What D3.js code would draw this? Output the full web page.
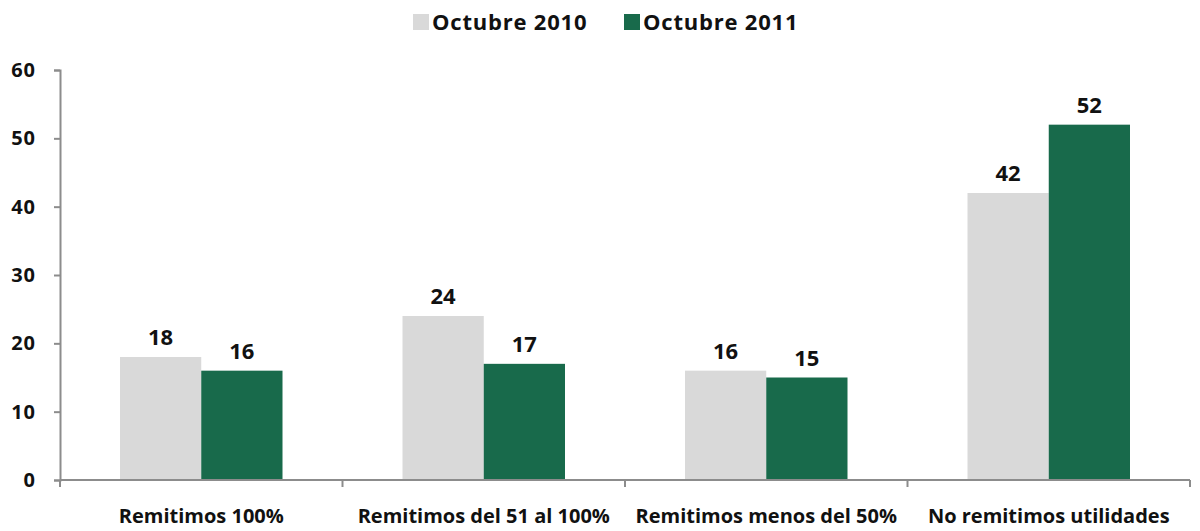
<!DOCTYPE html>
<html>
<head>
<meta charset="utf-8">
<script src="https://cdn.jsdelivr.net/npm/d3@7"></script>
<style>
  body { margin: 0; background: #fff; }
  svg text { font-family: "Open Sans", "DejaVu Sans", sans-serif; font-weight: bold; fill: #111; }
</style>
</head>
<body>
<div id="chart"></div>
<script>
const categories = ["Remitimos 100%", "Remitimos del 51 al 100%", "Remitimos menos del 50%", "No remitimos utilidades"];
const seriesNames = ["Octubre 2010", "Octubre 2011"];
const oct2010 = [18, 24, 16, 42];
const oct2011 = [16, 17, 15, 52];
const yTicks = [0, 10, 20, 30, 40, 50, 60];
const colors = ["#d9d9d9", "#186a4b"];

const width = 1200, height = 531;
const margin = {top: 70, right: 10, bottom: 51, left: 60};

const svg = d3.select("#chart").append("svg")
    .attr("width", width)
    .attr("height", height);

const x = d3.scaleBand()
    .domain(categories)
    .range([margin.left, width - margin.right])
    .paddingInner(0)
    .paddingOuter(0);

const x1 = d3.scaleBand()
    .domain(seriesNames)
    .range([60, x.bandwidth() - 60]);

const y = d3.scaleLinear()
    .domain([0, 60])
    .range([height - margin.bottom, margin.top]);

const rows = categories.map((c, i) => ({cat: c, values: [oct2010[i], oct2011[i]]}));

const groups = svg.append("g").selectAll("g")
    .data(rows)
    .join("g")
    .attr("transform", d => `translate(${x(d.cat)},0)`);

groups.selectAll("rect")
    .data(d => d.values.map((v, j) => ({name: seriesNames[j], v, j})))
    .join("rect")
    .attr("x", d => x1(d.name))
    .attr("y", d => y(d.v))
    .attr("width", x1.bandwidth())
    .attr("height", d => y(0) - y(d.v))
    .attr("fill", d => colors[d.j]);

groups.selectAll("text.val")
    .data(d => d.values.map((v, j) => ({name: seriesNames[j], v})))
    .join("text")
    .attr("class", "val")
    .attr("x", d => x1(d.name) + x1.bandwidth() / 2)
    .attr("y", d => y(d.v) - 12)
    .attr("text-anchor", "middle")
    .attr("font-size", 22)
    .text(d => d.v);

// y axis
const yAxis = svg.append("g")
    .attr("transform", `translate(${margin.left},0)`)
    .call(d3.axisLeft(y).tickValues(yTicks).tickSize(6).tickPadding(18));
yAxis.selectAll("line, path").attr("stroke", "#8c8c8c").attr("stroke-width", 2);
yAxis.selectAll("text").attr("font-size", 20).attr("letter-spacing", 1)
    .style("font-family", "'Open Sans', sans-serif").style("font-weight", "bold").attr("fill", "#111");

// x axis baseline with boundary ticks
const xAxisG = svg.append("g");
xAxisG.append("line")
    .attr("x1", margin.left).attr("x2", width - margin.right)
    .attr("y1", y(0)).attr("y2", y(0))
    .attr("stroke", "#8c8c8c").attr("stroke-width", 2);
const bounds = categories.map(c => x(c)).concat([x(categories[categories.length - 1]) + x.bandwidth()]);
xAxisG.selectAll("line.tick")
    .data(bounds)
    .join("line")
    .attr("class", "tick")
    .attr("x1", d => d).attr("x2", d => d)
    .attr("y1", y(0)).attr("y2", y(0) + 7)
    .attr("stroke", "#8c8c8c").attr("stroke-width", 2);

xAxisG.selectAll("text")
    .data(categories)
    .join("text")
    .attr("x", d => x(d) + x.bandwidth() / 2)
    .attr("y", 523)
    .attr("text-anchor", "middle")
    .attr("font-size", 20)
    .text(d => d);

// legend
const legend = svg.append("g");
const legendX = [413, 624];
seriesNames.forEach((name, i) => {
    legend.append("rect")
        .attr("x", legendX[i]).attr("y", 14)
        .attr("width", 16).attr("height", 16)
        .attr("fill", colors[i]);
    legend.append("text")
        .attr("x", legendX[i] + 19).attr("y", 30)
        .attr("font-size", 22)
        .attr("letter-spacing", 0.8)
        .text(name);
});
</script>
</body>
</html>
